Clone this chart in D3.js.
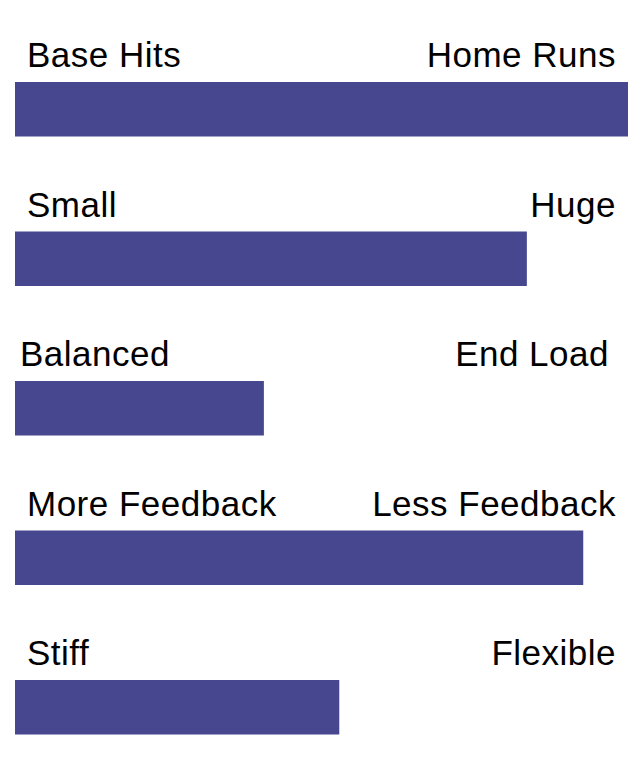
<!DOCTYPE html>
<html>

<head>
    <script src="https://cdn.jsdelivr.net/npm/d3@7"></script>
    <style>
        body { margin: 0; background: #fff; }
    </style>
</head>

<body>
    <div id="chart"></div>

    <script>

        // left / right ends of each scale, and where the bat sits on it
        const leftLabels = ["Base Hits", "Small", "Balanced", "More Feedback", "Stiff"];
        const rightLabels = ["Home Runs", "Huge", "End Load", "Less Feedback", "Flexible"];
        const values = [100, 83.5, 40.6, 92.7, 52.9];

        const width = 640,
            height = 780;

        const margin = { top: 82, left: 15, right: 12 };
        const rowStep = 149.5,
            barHeight = 54.5;

        const svg = d3.select("#chart")
            .append("svg")
            .attr("width", width)
            .attr("height", height);

        const x = d3.scaleLinear()
            .domain([0, 100])
            .range([margin.left, width - margin.right]);

        const y = d3.scaleBand()
            .domain(d3.range(values.length))
            .range([margin.top, margin.top + rowStep * values.length])
            .paddingInner(0);

        const row = svg.selectAll(".row")
            .data(values)
            .join("g")
            .attr("class", "row")
            .attr("transform", (d, i) => `translate(0,${y(i)})`);

        row.append("rect")
            .attr("x", x(0))
            .attr("y", 0)
            .attr("width", d => x(d) - x(0))
            .attr("height", barHeight)
            .attr("fill", "#46478f");

        // third row's labels are nudged left a bit in the original
        const shift = i => i === 2 ? -7 : 0;
        const inset = 12;

        const label = sel => sel
            .attr("y", -15)
            .attr("font-family", "Liberation Sans, Arial, sans-serif")
            .style("font-size", "35px")
            .style("letter-spacing", "0.5px")
            .attr("fill", "#000");

        row.append("text")
            .attr("x", (d, i) => x(0) + inset + shift(i))
            .text((d, i) => leftLabels[i])
            .call(label);

        row.append("text")
            .attr("x", (d, i) => x(100) - inset + shift(i))
            .attr("text-anchor", "end")
            .text((d, i) => rightLabels[i])
            .call(label);

    </script>
</body>

</html>
